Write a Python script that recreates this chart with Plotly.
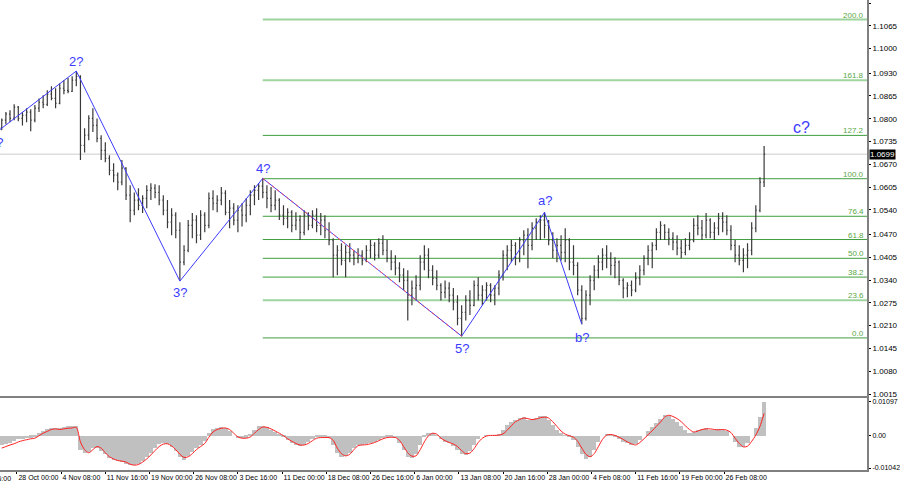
import plotly.graph_objects as go

# 12H bars (one bar per three 4H bars)
open_ = [
    1.0773, 1.0796, 1.0813, 1.0801, 1.0833, 1.0801, 1.0810, 1.0819, 1.0796, 1.0830,
    1.0847, 1.0841, 1.0870, 1.0858, 1.0844, 1.0887, 1.0881, 1.0878, 1.0910, 1.0921,
    1.0724, 1.0753, 1.0801, 1.0781, 1.0744, 1.0710, 1.0687, 1.0653, 1.0639, 1.0619,
    1.0659, 1.0582, 1.0539, 1.0568, 1.0553, 1.0573, 1.0596, 1.0602, 1.0590, 1.0568,
    1.0539, 1.0505, 1.0525, 1.0482, 1.0391, 1.0425, 1.0496, 1.0511, 1.0468, 1.0525,
    1.0496, 1.0573, 1.0559, 1.0568, 1.0588, 1.0533, 1.0545, 1.0511, 1.0539, 1.0525,
    1.0553, 1.0582, 1.0596, 1.0608, 1.0590, 1.0573, 1.0553, 1.0568, 1.0525, 1.0516,
    1.0533, 1.0496, 1.0511, 1.0476, 1.0525, 1.0496, 1.0525, 1.0496, 1.0511, 1.0482,
    1.0454, 1.0411, 1.0425, 1.0396, 1.0419, 1.0411, 1.0402, 1.0411, 1.0396, 1.0425,
    1.0439, 1.0411, 1.0445, 1.0425, 1.0402, 1.0391, 1.0374, 1.0354, 1.0339, 1.0297,
    1.0317, 1.0325, 1.0391, 1.0411, 1.0368, 1.0345, 1.0325, 1.0305, 1.0317, 1.0297,
    1.0277, 1.0231, 1.0248, 1.0282, 1.0268, 1.0325, 1.0297, 1.0311, 1.0325, 1.0297,
    1.0317, 1.0354, 1.0411, 1.0425, 1.0439, 1.0402, 1.0454, 1.0468, 1.0439, 1.0488,
    1.0505, 1.0511, 1.0496, 1.0454, 1.0425, 1.0439, 1.0419, 1.0454, 1.0391, 1.0382,
    1.0311, 1.0231, 1.0297, 1.0339, 1.0368, 1.0391, 1.0411, 1.0402, 1.0382, 1.0391,
    1.0339, 1.0317, 1.0325, 1.0311, 1.0345, 1.0368, 1.0402, 1.0425, 1.0439, 1.0476,
    1.0496, 1.0476, 1.0459, 1.0448, 1.0431, 1.0419, 1.0439, 1.0454, 1.0496, 1.0488,
    1.0468, 1.0511, 1.0476, 1.0488, 1.0516, 1.0505, 1.0482, 1.0439, 1.0411, 1.0396,
    1.0411, 1.0425, 1.0488, 1.0539, 1.0619,
]
high = [
    1.0801, 1.0819, 1.0824, 1.0841, 1.0836, 1.0819, 1.0830, 1.0827, 1.0839, 1.0858,
    1.0867, 1.0881, 1.0893, 1.0887, 1.0901, 1.0910, 1.0916, 1.0921, 1.0936, 1.0924,
    1.0773, 1.0810, 1.0830, 1.0801, 1.0753, 1.0733, 1.0696, 1.0673, 1.0647, 1.0682,
    1.0662, 1.0610, 1.0590, 1.0602, 1.0582, 1.0610, 1.0616, 1.0613, 1.0610, 1.0582,
    1.0568, 1.0545, 1.0533, 1.0505, 1.0439, 1.0511, 1.0531, 1.0525, 1.0539, 1.0533,
    1.0590, 1.0596, 1.0582, 1.0605, 1.0596, 1.0568, 1.0559, 1.0553, 1.0559, 1.0573,
    1.0596, 1.0610, 1.0616, 1.0630, 1.0610, 1.0605, 1.0596, 1.0573, 1.0553, 1.0545,
    1.0539, 1.0533, 1.0525, 1.0539, 1.0533, 1.0539, 1.0545, 1.0531, 1.0525, 1.0505,
    1.0459, 1.0439, 1.0445, 1.0439, 1.0445, 1.0425, 1.0431, 1.0425, 1.0439, 1.0454,
    1.0448, 1.0459, 1.0468, 1.0454, 1.0425, 1.0411, 1.0391, 1.0374, 1.0368, 1.0339,
    1.0354, 1.0411, 1.0439, 1.0431, 1.0382, 1.0368, 1.0331, 1.0339, 1.0334, 1.0317,
    1.0297, 1.0268, 1.0297, 1.0311, 1.0339, 1.0348, 1.0325, 1.0334, 1.0331, 1.0325,
    1.0368, 1.0425, 1.0439, 1.0454, 1.0448, 1.0462, 1.0482, 1.0488, 1.0505, 1.0516,
    1.0525, 1.0533, 1.0511, 1.0476, 1.0459, 1.0468, 1.0488, 1.0459, 1.0439, 1.0391,
    1.0325, 1.0311, 1.0354, 1.0382, 1.0411, 1.0431, 1.0439, 1.0419, 1.0405, 1.0396,
    1.0345, 1.0334, 1.0339, 1.0362, 1.0382, 1.0411, 1.0439, 1.0448, 1.0488, 1.0508,
    1.0499, 1.0488, 1.0476, 1.0468, 1.0454, 1.0459, 1.0476, 1.0516, 1.0525, 1.0511,
    1.0531, 1.0516, 1.0505, 1.0531, 1.0533, 1.0525, 1.0496, 1.0454, 1.0439, 1.0431,
    1.0445, 1.0505, 1.0553, 1.0633, 1.0722,
]
low = [
    1.0767, 1.0784, 1.0790, 1.0796, 1.0793, 1.0781, 1.0790, 1.0764, 1.0790, 1.0819,
    1.0830, 1.0836, 1.0853, 1.0830, 1.0841, 1.0870, 1.0873, 1.0876, 1.0893, 1.0682,
    1.0704, 1.0739, 1.0762, 1.0733, 1.0682, 1.0676, 1.0639, 1.0619, 1.0596, 1.0610,
    1.0568, 1.0505, 1.0525, 1.0539, 1.0531, 1.0545, 1.0568, 1.0573, 1.0553, 1.0525,
    1.0488, 1.0468, 1.0459, 1.0337, 1.0382, 1.0419, 1.0459, 1.0445, 1.0454, 1.0476,
    1.0488, 1.0539, 1.0533, 1.0553, 1.0525, 1.0488, 1.0496, 1.0476, 1.0493, 1.0505,
    1.0525, 1.0553, 1.0568, 1.0573, 1.0545, 1.0533, 1.0539, 1.0511, 1.0496, 1.0488,
    1.0476, 1.0482, 1.0454, 1.0468, 1.0482, 1.0488, 1.0476, 1.0468, 1.0459, 1.0439,
    1.0348, 1.0354, 1.0382, 1.0348, 1.0391, 1.0382, 1.0388, 1.0382, 1.0391, 1.0402,
    1.0396, 1.0402, 1.0411, 1.0391, 1.0368, 1.0354, 1.0334, 1.0311, 1.0225, 1.0268,
    1.0282, 1.0311, 1.0368, 1.0345, 1.0325, 1.0311, 1.0282, 1.0288, 1.0277, 1.0254,
    1.0211, 1.0180, 1.0225, 1.0240, 1.0265, 1.0282, 1.0268, 1.0282, 1.0277, 1.0268,
    1.0297, 1.0339, 1.0368, 1.0391, 1.0382, 1.0391, 1.0411, 1.0374, 1.0425, 1.0454,
    1.0454, 1.0459, 1.0439, 1.0402, 1.0391, 1.0396, 1.0391, 1.0368, 1.0354, 1.0297,
    1.0214, 1.0225, 1.0268, 1.0311, 1.0345, 1.0368, 1.0374, 1.0354, 1.0345, 1.0325,
    1.0288, 1.0291, 1.0294, 1.0305, 1.0325, 1.0354, 1.0382, 1.0374, 1.0425, 1.0454,
    1.0454, 1.0439, 1.0425, 1.0411, 1.0402, 1.0411, 1.0425, 1.0448, 1.0468, 1.0454,
    1.0459, 1.0459, 1.0454, 1.0468, 1.0476, 1.0468, 1.0425, 1.0391, 1.0382, 1.0362,
    1.0374, 1.0411, 1.0476, 1.0533, 1.0605,
]
close = [
    1.0796, 1.0813, 1.0801, 1.0833, 1.0801, 1.0810, 1.0819, 1.0796, 1.0830, 1.0847,
    1.0841, 1.0870, 1.0858, 1.0844, 1.0887, 1.0881, 1.0878, 1.0910, 1.0921, 1.0724,
    1.0753, 1.0801, 1.0781, 1.0744, 1.0710, 1.0687, 1.0653, 1.0639, 1.0619, 1.0659,
    1.0582, 1.0539, 1.0568, 1.0553, 1.0573, 1.0596, 1.0602, 1.0590, 1.0568, 1.0539,
    1.0505, 1.0525, 1.0482, 1.0391, 1.0425, 1.0496, 1.0511, 1.0468, 1.0525, 1.0496,
    1.0573, 1.0559, 1.0568, 1.0588, 1.0533, 1.0545, 1.0511, 1.0539, 1.0525, 1.0553,
    1.0582, 1.0596, 1.0608, 1.0590, 1.0573, 1.0553, 1.0568, 1.0525, 1.0516, 1.0533,
    1.0496, 1.0511, 1.0476, 1.0525, 1.0496, 1.0525, 1.0496, 1.0511, 1.0482, 1.0454,
    1.0411, 1.0425, 1.0396, 1.0419, 1.0411, 1.0402, 1.0411, 1.0396, 1.0425, 1.0439,
    1.0411, 1.0445, 1.0425, 1.0402, 1.0391, 1.0374, 1.0354, 1.0339, 1.0297, 1.0317,
    1.0325, 1.0391, 1.0411, 1.0368, 1.0345, 1.0325, 1.0305, 1.0317, 1.0297, 1.0277,
    1.0231, 1.0248, 1.0282, 1.0268, 1.0325, 1.0297, 1.0311, 1.0325, 1.0297, 1.0317,
    1.0354, 1.0411, 1.0425, 1.0439, 1.0402, 1.0454, 1.0468, 1.0439, 1.0488, 1.0505,
    1.0511, 1.0496, 1.0454, 1.0425, 1.0439, 1.0419, 1.0454, 1.0391, 1.0382, 1.0311,
    1.0231, 1.0297, 1.0339, 1.0368, 1.0391, 1.0411, 1.0402, 1.0382, 1.0391, 1.0339,
    1.0317, 1.0325, 1.0311, 1.0345, 1.0368, 1.0402, 1.0425, 1.0439, 1.0476, 1.0496,
    1.0476, 1.0459, 1.0448, 1.0431, 1.0419, 1.0439, 1.0454, 1.0496, 1.0488, 1.0468,
    1.0511, 1.0476, 1.0488, 1.0516, 1.0505, 1.0482, 1.0439, 1.0411, 1.0396, 1.0411,
    1.0425, 1.0488, 1.0539, 1.0619, 1.0699,
]

# MACD main (grey histogram) and signal (red line)
macd_main = [
    -0.0030, -0.0026, -0.0022, -0.0018, -0.0012, -0.0010, -0.0008, -0.0006, -0.0002, 0.0008,
    0.0015, 0.0022, 0.0025, 0.0026, 0.0024, 0.0027, 0.0030, 0.0031, 0.0031, -0.0045,
    -0.0055, -0.0052, -0.0040, -0.0040, -0.0048, -0.0060, -0.0072, -0.0078, -0.0080, -0.0084,
    -0.0090, -0.0095, -0.0094, -0.0090, -0.0082, -0.0070, -0.0055, -0.0040, -0.0028, -0.0025,
    -0.0028, -0.0038, -0.0050, -0.0068, -0.0078, -0.0065, -0.0052, -0.0040, -0.0030, -0.0018,
    0.0010, 0.0022, 0.0026, 0.0028, 0.0026, 0.0015, 0.0000, -0.0008, -0.0008, -0.0006,
    0.0005, 0.0018, 0.0030, 0.0032, 0.0028, 0.0020, 0.0012, 0.0006, -0.0005, -0.0015,
    -0.0025, -0.0030, -0.0034, -0.0030, -0.0020, -0.0010, -0.0005, -0.0004, -0.0005, -0.0008,
    -0.0030, -0.0055, -0.0068, -0.0066, -0.0055, -0.0040, -0.0030, -0.0030, -0.0028, -0.0024,
    -0.0020, -0.0014, -0.0008, -0.0003, -0.0003, -0.0008, -0.0025, -0.0045, -0.0068, -0.0072,
    -0.0060, -0.0030, -0.0005, 0.0008, 0.0010, 0.0002, -0.0012, -0.0020, -0.0025, -0.0032,
    -0.0045, -0.0058, -0.0062, -0.0050, -0.0030, -0.0010, 0.0000, 0.0002, 0.0000, 0.0002,
    0.0005, 0.0020, 0.0035, 0.0045, 0.0052, 0.0058, 0.0060, 0.0052, 0.0050, 0.0058,
    0.0063, 0.0062, 0.0050, 0.0035, 0.0020, 0.0008, 0.0002, -0.0004, -0.0015, -0.0035,
    -0.0060, -0.0075, -0.0070, -0.0045, -0.0020, 0.0000, 0.0005, 0.0002, -0.0002, -0.0012,
    -0.0020, -0.0025, -0.0030, -0.0026, -0.0015, 0.0000, 0.0015, 0.0028, 0.0042, 0.0055,
    0.0066, 0.0064, 0.0055, 0.0045, 0.0032, 0.0020, 0.0010, 0.0012, 0.0018, 0.0022,
    0.0024, 0.0020, 0.0018, 0.0021, 0.0020, 0.0014, 0.0000, -0.0020, -0.0035, -0.0038,
    -0.0025, 0.0000, 0.0025, 0.0060, 0.0109,
]
macd_signal = [
    -0.0040, -0.0035, -0.0030, -0.0026, -0.0020, -0.0016, -0.0013, -0.0010, -0.0008, 0.0000,
    0.0008, 0.0014, 0.0020, 0.0022, 0.0020, 0.0022, 0.0024, 0.0025, 0.0027, -0.0020,
    -0.0045, -0.0055, -0.0045, -0.0035, -0.0040, -0.0055, -0.0068, -0.0075, -0.0080, -0.0082,
    -0.0085, -0.0092, -0.0095, -0.0093, -0.0085, -0.0075, -0.0062, -0.0048, -0.0035, -0.0027,
    -0.0026, -0.0033, -0.0045, -0.0060, -0.0070, -0.0068, -0.0058, -0.0045, -0.0035, -0.0025,
    -0.0005, 0.0012, 0.0020, 0.0024, 0.0025, 0.0020, 0.0008, -0.0004, -0.0008, -0.0008,
    -0.0004, 0.0008, 0.0020, 0.0028, 0.0027, 0.0022, 0.0015, 0.0008, 0.0000, -0.0010,
    -0.0018, -0.0025, -0.0030, -0.0030, -0.0025, -0.0016, -0.0008, -0.0006, -0.0006, -0.0006,
    -0.0015, -0.0040, -0.0058, -0.0065, -0.0060, -0.0045, -0.0032, -0.0030, -0.0029, -0.0026,
    -0.0022, -0.0016, -0.0010, -0.0006, -0.0005, -0.0006, -0.0015, -0.0035, -0.0055, -0.0066,
    -0.0065, -0.0045, -0.0020, 0.0000, 0.0008, 0.0005, -0.0008, -0.0016, -0.0022, -0.0027,
    -0.0035, -0.0048, -0.0058, -0.0056, -0.0042, -0.0022, -0.0008, -0.0001, 0.0001, 0.0001,
    0.0002, 0.0006, 0.0018, 0.0032, 0.0045, 0.0052, 0.0057, 0.0055, 0.0052, 0.0054,
    0.0058, 0.0060, 0.0057, 0.0045, 0.0030, 0.0015, 0.0005, 0.0000, -0.0005, -0.0018,
    -0.0040, -0.0060, -0.0068, -0.0058, -0.0035, -0.0012, 0.0002, 0.0004, 0.0001, -0.0005,
    -0.0012, -0.0020, -0.0026, -0.0030, -0.0022, -0.0010, 0.0003, 0.0016, 0.0030, 0.0044,
    0.0060, 0.0066, 0.0062, 0.0055, 0.0045, 0.0032, 0.0020, 0.0012, 0.0015, 0.0020,
    0.0022, 0.0022, 0.0020, 0.0019, 0.0020, 0.0018, 0.0010, -0.0008, -0.0025, -0.0036,
    -0.0034, -0.0018, 0.0002, 0.0030, 0.0072,
]

# position of each bar on the 4H bar axis
bar_idx = [21 + 3 * k for k in range(len(close))]

# wave count points (4H bar index, price)
wave_labels = ["1?", "2?", "3?", "4?", "5?", "a?", "b?"]
wave_idx = [18, 75, 150, 210, 354, 414, 441]
wave_price = [1.0764, 1.0936, 1.0337, 1.0630, 1.0180, 1.0533, 1.0214]
wave_c_idx = 600
wave_c_price = 1.0776

# fibonacci grid
fib_low = 1.0175
fib_high = 1.0629
fib_ratios = [0.0, 23.6, 38.2, 50.0, 61.8, 76.4, 100.0, 127.2, 161.8, 200.0]

last_price = 1.0699

price_ticks = [1.1130, 1.1065, 1.1000, 1.0930, 1.0865, 1.0800, 1.0735, 1.0670, 1.0605,
               1.0540, 1.0470, 1.0405, 1.0340, 1.0275, 1.0210, 1.0145, 1.0080, 1.0015]
osc_ticks = [0.01097, 0.0, -0.01042]
osc_tick_text = ["0.01097", "0.00", "-0.01042"]

date_idx = [32, 64, 96, 128, 160, 192, 224, 256, 288, 320, 352, 384, 416, 448, 480, 512, 544]
date_labels = ["28 Oct 00:00", "4 Nov 08:00", "11 Nov 16:00", "19 Nov 00:00", "26 Nov 08:00",
               "3 Dec 16:00", "11 Dec 00:00", "18 Dec 08:00", "26 Dec 16:00", "6 Jan 00:00",
               "13 Jan 08:00", "20 Jan 16:00", "28 Jan 00:00", "4 Feb 08:00", "11 Feb 16:00",
               "19 Feb 00:00", "26 Feb 08:00"]

x_range = [19.75, 647.5]
FONT = "Liberation Sans, Arial, sans-serif"
WAVE_BLUE = "#3c3cff"
AXIS_GREY = "#808080"

fig = go.Figure()

fig.add_trace(go.Ohlc(
    x=bar_idx, open=open_, high=high, low=low, close=close,
    increasing=dict(line=dict(color="#3a3a3a", width=1.2)),
    decreasing=dict(line=dict(color="#3a3a3a", width=1.2)),
    tickwidth=0.25, xaxis="x", yaxis="y", hoverinfo="skip",
))

# wave lines
fig.add_trace(go.Scatter(
    x=wave_idx, y=wave_price, mode="lines",
    line=dict(color=WAVE_BLUE, width=1), xaxis="x", yaxis="y", hoverinfo="skip",
))
fig.add_trace(go.Scatter(
    x=wave_idx[3:5], y=wave_price[3:5], mode="lines",
    line=dict(color="#ff5050", width=1, dash="dot"), xaxis="x", yaxis="y", hoverinfo="skip",
))

# oscillator
fig.add_trace(go.Bar(
    x=bar_idx, y=macd_main, width=3, marker=dict(color="#c0c0c0", line=dict(width=0)),
    xaxis="x2", yaxis="y2", hoverinfo="skip",
))
fig.add_trace(go.Scatter(
    x=bar_idx, y=macd_signal, mode="lines",
    line=dict(color="#ff2020", width=1, shape="spline", smoothing=0.8),
    xaxis="x2", yaxis="y2", hoverinfo="skip",
))

shapes = []
annotations = []

# current price line
shapes.append(dict(type="line", xref="paper", yref="y", x0=0, x1=1, y0=last_price, y1=last_price,
                   line=dict(color="#cccccc", width=1), layer="below"))

light_levels = {200.0, 161.8, 23.6}
for r in fib_ratios:
    level = fib_low + (fib_high - fib_low) * r / 100.0
    light = r in light_levels
    shapes.append(dict(type="line", xref="x", yref="y", x0=wave_idx[3], x1=x_range[1],
                       y0=level, y1=level, layer="below",
                       line=dict(color="#9fd49f" if light else "#3f9f3f", width=2 if light else 1)))
    annotations.append(dict(xref="paper", yref="y", x=1, y=level, text=f"{r:.1f}",
                            xanchor="right", yanchor="bottom", showarrow=False, xshift=-1, yshift=-2,
                            font=dict(family=FONT, size=8, color="#5aa845")))

# wave labels
label_shift = [-12, 10, -11, 10, -12, 12, -13]
for i, (t, xi, yi) in enumerate(zip(wave_labels, wave_idx, wave_price)):
    if i == 0:
        annotations.append(dict(xref="paper", yref="y", x=0, y=1.0733, text=t, xanchor="right",
                                xshift=5, showarrow=False,
                                font=dict(family=FONT, size=13, color=WAVE_BLUE)))
        continue
    annotations.append(dict(xref="x", yref="y", x=xi, y=yi, text=t, showarrow=False,
                            yshift=label_shift[i], font=dict(family=FONT, size=13, color=WAVE_BLUE)))
annotations.append(dict(xref="x", yref="y", x=wave_c_idx, y=wave_c_price, text="c?", showarrow=False,
                        font=dict(family=FONT, size=16, color=WAVE_BLUE)))

# last price tag
annotations.append(dict(xref="paper", yref="y", x=1, y=last_price, text="1.0699", xanchor="left",
                        showarrow=False, bgcolor="#000000", borderpad=0, xshift=2,
                        font=dict(family=FONT, size=8, color="#ffffff")))

# cut-off first date label
annotations.append(dict(xref="paper", yref="paper", x=0, y=0, text="18 Oct 16:00", xanchor="right",
                        yanchor="top", xshift=13, yshift=-3, showarrow=False,
                        font=dict(family=FONT, size=7, color="#000000")))

fig.update_layout(
    width=900, height=485,
    margin=dict(l=0, r=29, t=0, b=15),
    paper_bgcolor="white", plot_bgcolor="white",
    showlegend=False, bargap=0,
    shapes=shapes, annotations=annotations,
    font=dict(family=FONT, size=8, color="#000000"),
    xaxis=dict(domain=[0, 1], anchor="y", range=x_range, showticklabels=False, ticks="",
               showgrid=False, zeroline=False, showline=True, linecolor=AXIS_GREY, linewidth=2,
               rangeslider=dict(visible=False)),
    yaxis=dict(domain=[0.1574, 1], anchor="x", side="right", range=[1.00093, 1.11386],
               tickvals=price_ticks, ticktext=[f"{v:.4f}" for v in price_ticks],
               ticks="outside", ticklen=2, tickcolor="#000000", showgrid=False, zeroline=False,
               showline=True, linecolor=AXIS_GREY, linewidth=2, tickfont=dict(size=8)),
    xaxis2=dict(domain=[0, 1], anchor="y2", matches="x", range=x_range,
                tickvals=date_idx, ticktext=date_labels, ticks="outside", ticklen=2,
                tickangle=0, tickcolor="#000000", ticklabelposition="outside right",
                showgrid=False, zeroline=False, showline=True, mirror=True,
                linecolor=AXIS_GREY, linewidth=2, tickfont=dict(size=7)),
    yaxis2=dict(domain=[0, 0.1532], anchor="x2", side="right", range=[-0.01106, 0.01216],
                tickvals=osc_ticks, ticktext=osc_tick_text, ticks="outside", ticklen=2,
                tickcolor="#000000", showgrid=False, zeroline=False,
                showline=True, linecolor=AXIS_GREY, linewidth=2, tickfont=dict(size=7)),
)

# drop the default page margin so the figure sits at the window's top-left corner
fig.write_html("out.html", config={"displayModeBar": False},
               post_script="document.body.style.margin='0';document.body.style.overflow='hidden';")
